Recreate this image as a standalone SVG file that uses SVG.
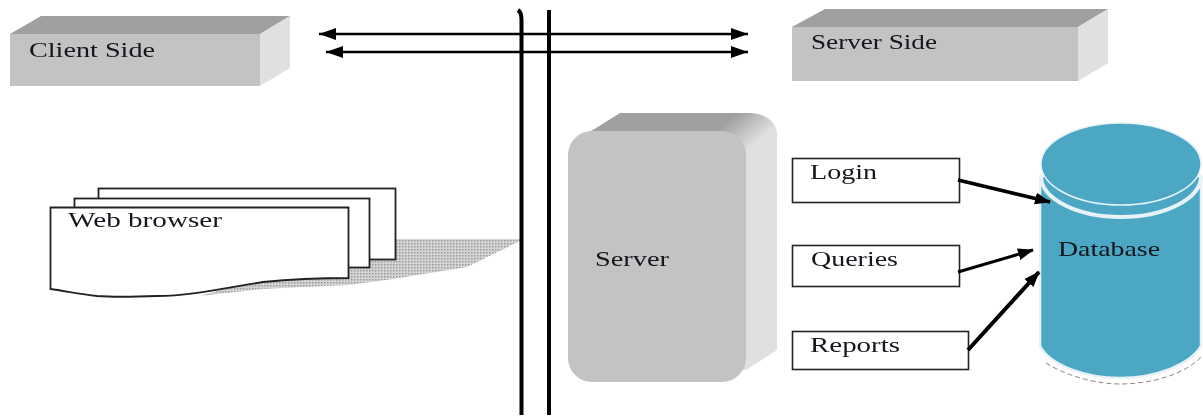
<svg xmlns="http://www.w3.org/2000/svg" width="1203" height="419" viewBox="0 0 1203 419">
<defs>
<marker id="ah" markerUnits="userSpaceOnUse" markerWidth="18" markerHeight="14" refX="17" refY="6" orient="auto-start-reverse"><path d="M0 0L17 6L0 12z" fill="#000"/></marker>
<marker id="bh" markerUnits="userSpaceOnUse" markerWidth="18" markerHeight="14" refX="15" refY="6" orient="auto"><path d="M0 0L16 6L0 12z" fill="#000"/></marker>
<pattern id="dots" width="3" height="3" patternUnits="userSpaceOnUse"><rect width="3" height="3" fill="#d4d4d4"/><rect width="1.5" height="1.5" fill="#9a9a9a"/></pattern>
<linearGradient id="cornerTop" gradientUnits="userSpaceOnUse" x1="735" y1="115" x2="757" y2="142"><stop offset="0" stop-color="#a0a0a0"/><stop offset="1" stop-color="#e0e0e0"/></linearGradient>
<filter id="soft" x="-5%" y="-20%" width="110%" height="140%"><feGaussianBlur stdDeviation="0.4"/></filter>
</defs>
<style>
text{font-family:"Liberation Serif","Times New Roman",serif;font-size:21px;fill:#14141c;filter:url(#soft)}
.box{fill:#fff;stroke:#222;stroke-width:1.6}
.page{fill:#fff;stroke:#222;stroke-width:1.8}
.link{stroke:#000;fill:none}
.front{fill:#c3c3c3}.top{fill:#a0a0a0}.side{fill:#e0e0e0}
</style>
<rect width="1203" height="419" fill="#fff"/>

<g id="client-side">
<polygon class="top" points="10,34 41,16 290,16 260,34"/>
<polygon class="side" points="260,34 290,16 290,68 260,86"/>
<rect class="front" x="10" y="34" width="250" height="52"/>
<text x="29" y="57" textLength="126" lengthAdjust="spacingAndGlyphs">Client Side</text>
</g>

<g id="server-side">
<polygon class="top" points="792,27 825,9 1108,9 1078,27"/>
<polygon class="side" points="1078,27 1108,9 1108,63 1078,81"/>
<rect class="front" x="792" y="27" width="286" height="54"/>
<text x="811" y="49" textLength="126" lengthAdjust="spacingAndGlyphs">Server Side</text>
</g>

<g id="web-browser">
<path d="M396 239H524L467 267L393 279L348 285L262 289L200 296L262 278L348 270V239z" fill="url(#dots)"/>
<rect class="page" x="98.500" y="188.500" width="297" height="71"/>
<rect class="page" x="74.500" y="198.500" width="295" height="69"/>
<path class="page" d="M50.500 207.500H348.500V278C325 278 303 278 263 282C225 288 190 296 157 296C130 297 110 297 97 296C80 294 65 291 50.500 289z"/>
<text x="68" y="227" textLength="154" lengthAdjust="spacingAndGlyphs">Web browser</text>
</g>

<g id="server">
<path d="M700 131L730 113H752C765 114 777 122 777 134V350L746 370H700z" fill="url(#cornerTop)"/>
<path d="M580 138L620 113H735L712 131H600z" class="top"/>
<rect class="front" x="568" y="131" width="178" height="251" rx="24" ry="24"/>
<text x="595" y="266" textLength="74" lengthAdjust="spacingAndGlyphs">Server</text>
</g>

<g id="login">
<rect class="box" x="792.500" y="158.500" width="167" height="44"/>
<text x="810" y="179" textLength="67" lengthAdjust="spacingAndGlyphs">Login</text>
</g>
<g id="queries">
<rect class="box" x="792.500" y="245.500" width="167" height="41"/>
<text x="811" y="266" textLength="87" lengthAdjust="spacingAndGlyphs">Queries</text>
</g>
<g id="reports">
<rect class="box" x="792.500" y="331.500" width="176" height="38"/>
<text x="810" y="352" textLength="90" lengthAdjust="spacingAndGlyphs">Reports</text>
</g>

<g id="database">
<path d="M1040 176V346C1050 365 1085 378 1120 378C1155 378 1190 365 1201 346V176z" fill="#4ba7c4" stroke="#e6f2f7" stroke-width="2.500"/>
<path d="M1046 363C1070 378 1100 384 1120 384C1150 384 1185 375 1202 356" fill="none" stroke="#888" stroke-width="1" stroke-dasharray="5 3"/>
<ellipse cx="1121" cy="164" rx="80" ry="41" fill="#4ba7c4" stroke="#e6f2f7" stroke-width="1.500"/>
<path d="M1041 176A80 41 0 0 0 1201 176" fill="none" stroke="#e6f2f7" stroke-width="4"/>
<text x="1058" y="256" textLength="102" lengthAdjust="spacingAndGlyphs">Database</text>
</g>

<g id="connectors">
<path class="link" stroke-width="4" d="M518 10C521 12 521.500 15 521.500 20V415"/>
<path class="link" stroke-width="4" d="M549 10V415"/>
<line class="link" stroke-width="2.600" x1="319" y1="34" x2="748" y2="34" marker-start="url(#ah)" marker-end="url(#ah)"/>
<line class="link" stroke-width="2.600" x1="326" y1="52" x2="748" y2="52" marker-start="url(#ah)" marker-end="url(#ah)"/>
<line class="link" stroke-width="3.500" x1="958" y1="180" x2="1050" y2="202" marker-end="url(#bh)"/>
<line class="link" stroke-width="3" x1="958" y1="272" x2="1033" y2="250" marker-end="url(#bh)"/>
<line class="link" stroke-width="4" x1="968" y1="350" x2="1039" y2="272" marker-end="url(#bh)"/>
</g>
</svg>
